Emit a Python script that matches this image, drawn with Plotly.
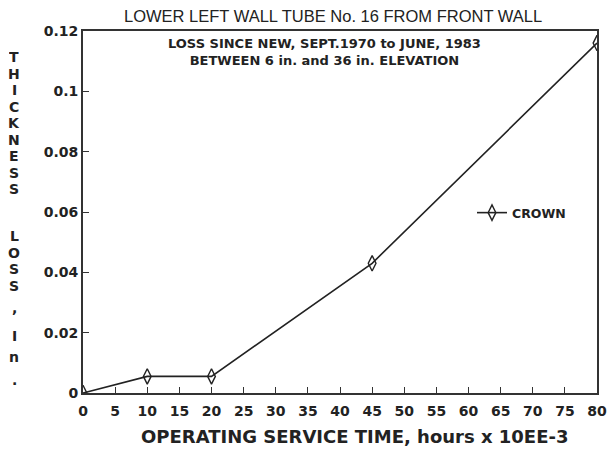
import plotly.graph_objects as go

hours = [0, 10, 20, 45, 80]
loss = [0.0, 0.0055, 0.0055, 0.043, 0.116]
series_name = "CROWN"
x_ticks = list(range(0, 85, 5))
x_tick_text = [str(v) for v in x_ticks]
y_ticks = [0, 0.02, 0.04, 0.06, 0.08, 0.1, 0.12]
y_tick_text = ["0", "0.02", "0.04", "0.06", "0.08", "0.1", "0.12"]

OFF = 8  # page body margin
W, H = 607, 445
L, T = 83 - OFF, 31 - OFF
pw, ph = 514, 362
R = W - L - pw
B = H - T - ph

def px(x):
    return (x - OFF - L) / pw

def py(y):
    return (T + ph - (y - OFF)) / ph

fig = go.Figure()
fig.add_trace(go.Scatter(
    x=hours, y=loss, name="<b>%s</b>" % series_name, mode="lines+markers",
    line=dict(color="#222222", width=1.6),
    marker=dict(symbol="diamond-tall-open", size=11, color="#222222",
                line=dict(width=1.4, color="#222222")),
))

bf = "DejaVu Sans"
fig.update_layout(
    width=W, height=H,
    margin=dict(l=L, r=R, t=T, b=B, autoexpand=False),
    paper_bgcolor="white", plot_bgcolor="white",
    showlegend=True,
    legend=dict(x=px(472), y=py(213), xanchor="left", yanchor="middle",
                bgcolor="rgba(0,0,0,0)",
                font=dict(family=bf, size=12.5, color="#222222", weight="bold")),
    xaxis=dict(range=[0, 80], tickvals=x_ticks, ticktext=["<b>%s</b>" % t for t in x_tick_text],
               ticks="inside", ticklen=6, tickwidth=1.2, automargin=False, ticklabelstandoff=4,
               tickcolor="#333", showline=True, linecolor="#333", linewidth=1.8, mirror=True,
               showgrid=False, zeroline=False,
               tickfont=dict(family=bf, size=14, color="#222222", weight="bold")),
    yaxis=dict(range=[0, 0.12], tickvals=y_ticks, ticktext=["<b>%s</b>" % t for t in y_tick_text],
               ticks="inside", ticklen=6, automargin=False,
               tickwidth=1.2, tickcolor="#333", showline=True, linecolor="#333", linewidth=1.8,
               mirror=True, showgrid=False, zeroline=False,
               tickfont=dict(family=bf, size=14, color="#222222", weight="bold")),
)

fig.add_annotation(text="LOWER LEFT WALL TUBE No. 16 FROM FRONT WALL", xref="paper", yref="paper",
                   x=px(333), y=py(16), showarrow=False,
                   xanchor="center", yanchor="middle",
                   font=dict(family="Liberation Sans", size=16.5, color="#222222"))
fig.add_annotation(text="<b>LOSS SINCE NEW, SEPT.1970 to JUNE, 1983<br>BETWEEN 6 in. and 36 in. ELEVATION</b>",
                   xref="paper", yref="paper",
                   x=px(324), y=py(52), showarrow=False,
                   xanchor="center", yanchor="middle",
                   font=dict(family=bf, size=13, color="#222222", weight="bold"))
fig.add_annotation(text="<b>OPERATING SERVICE TIME, hours x 10EE-3</b>", xref="paper", yref="paper",
                   x=px(354), y=py(437), showarrow=False, xanchor="center", yanchor="middle",
                   font=dict(family=bf, size=18, color="#222222", weight="bold"))

letters = ["T", "H", "I", "C", "K", "N", "E", "S", "S", "L", "O", "S", "S", ",", "I", "n", "."]
letter_y = [57, 73.5, 90, 106.5, 123, 139.5, 156, 172.5, 189, 236, 252.5, 269, 285.5, 308, 336, 357, 380]
for ch, yy in zip(letters, letter_y):
    fig.add_annotation(text="<b>%s</b>" % ch, xref="paper", yref="paper", x=px(14),
                       y=py(yy), showarrow=False, xanchor="center", yanchor="middle",
                       height=14, valign="middle",
                       font=dict(family=bf, size=14, color="#222222", weight="bold"))

fig.write_html("out.html")
